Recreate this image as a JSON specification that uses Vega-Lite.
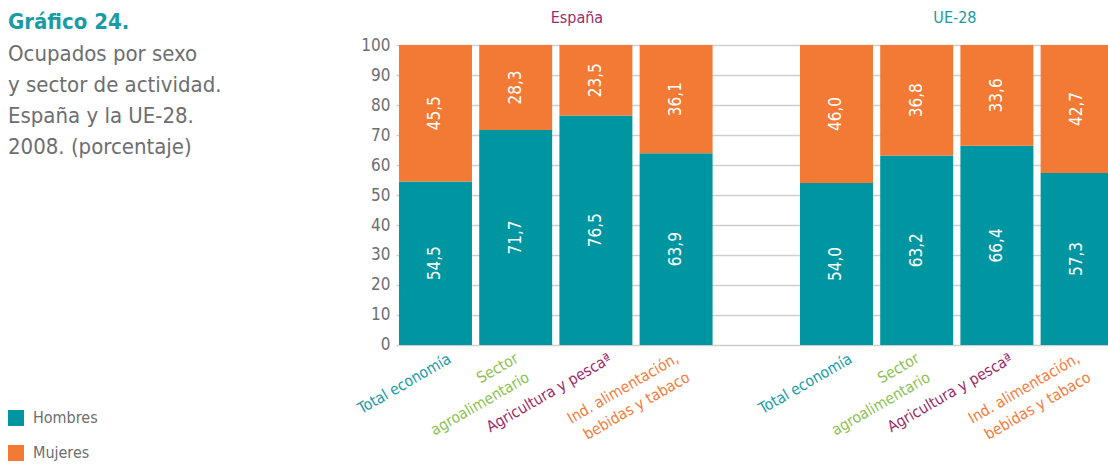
{
  "$schema": "https://vega.github.io/schema/vega-lite/v6.json",
  "width": 714.6,
  "height": 300,
  "autosize": {"type": "none"},
  "padding": {"left": 399, "top": 45, "right": 0, "bottom": 121},
  "background": "white",
  "title": {
    "text": "Gráfico 24.",
    "subtitle": ["Ocupados por sexo", "y sector de actividad.", "España y la UE-28.", "2008. (porcentaje)"],
    "anchor": "start",
    "frame": "group",
    "orient": "top",
    "offset": 0,
    "dx": -391,
    "dy": 149,
    "font": "DejaVu Sans Condensed, Liberation Sans Narrow, Roboto Condensed, sans-serif",
    "fontSize": 22,
    "fontWeight": "bold",
    "color": "#1a9ba6",
    "subtitleFont": "DejaVu Sans Condensed, Liberation Sans Narrow, Roboto Condensed, sans-serif",
    "subtitleFontSize": 22,
    "subtitleColor": "#6d6e71",
    "subtitleLineHeight": 31,
    "subtitlePadding": 10
  },
  "config": {
    "view": {"stroke": null},
    "font": "DejaVu Sans Condensed, Liberation Sans Narrow, Roboto Condensed, sans-serif",
    "axis": {"labelOverlap": false, "labelSeparation": 0, "labelBound": false},
    "axisY": {"tickCount": 11, "labelOverlap": false, "grid": true, "gridColor": "#cfcfcf", "gridWidth": 1.5, "domain": false, "ticks": true, "tickSize": 3, "tickColor": "#cfcfcf", "tickWidth": 1.5, "labelPadding": 6, "labelFontSize": 17, "labelColor": "#6d6e71", "title": null},
    "locale": {"number": {"decimal": ",", "thousands": ".", "grouping": [3], "currency": ["", " €"]}}
  },
  "data": {
    "values": [
      {"slot": "E1", "grupo": "España", "sector": "Total economía", "sexo": "Hombres", "valor": 54.5},
      {"slot": "E1", "grupo": "España", "sector": "Total economía", "sexo": "Mujeres", "valor": 45.5},
      {"slot": "E2", "grupo": "España", "sector": "Sector agroalimentario", "sexo": "Hombres", "valor": 71.7},
      {"slot": "E2", "grupo": "España", "sector": "Sector agroalimentario", "sexo": "Mujeres", "valor": 28.3},
      {"slot": "E3", "grupo": "España", "sector": "Agricultura y pesca", "sexo": "Hombres", "valor": 76.5},
      {"slot": "E3", "grupo": "España", "sector": "Agricultura y pesca", "sexo": "Mujeres", "valor": 23.5},
      {"slot": "E4", "grupo": "España", "sector": "Ind. alimentación, bebidas y tabaco", "sexo": "Hombres", "valor": 63.9},
      {"slot": "E4", "grupo": "España", "sector": "Ind. alimentación, bebidas y tabaco", "sexo": "Mujeres", "valor": 36.1},
      {"slot": "U1", "grupo": "UE-28", "sector": "Total economía", "sexo": "Hombres", "valor": 54.0},
      {"slot": "U1", "grupo": "UE-28", "sector": "Total economía", "sexo": "Mujeres", "valor": 46.0},
      {"slot": "U2", "grupo": "UE-28", "sector": "Sector agroalimentario", "sexo": "Hombres", "valor": 63.2},
      {"slot": "U2", "grupo": "UE-28", "sector": "Sector agroalimentario", "sexo": "Mujeres", "valor": 36.8},
      {"slot": "U3", "grupo": "UE-28", "sector": "Agricultura y pesca", "sexo": "Hombres", "valor": 66.4},
      {"slot": "U3", "grupo": "UE-28", "sector": "Agricultura y pesca", "sexo": "Mujeres", "valor": 33.6},
      {"slot": "U4", "grupo": "UE-28", "sector": "Ind. alimentación, bebidas y tabaco", "sexo": "Hombres", "valor": 57.3},
      {"slot": "U4", "grupo": "UE-28", "sector": "Ind. alimentación, bebidas y tabaco", "sexo": "Mujeres", "valor": 42.7}
    ]
  },
  "resolve": {"scale": {"color": "independent"}, "legend": {"color": "independent"}},
  "layer": [
    {
      "mark": {"type": "bar"},
      "encoding": {
        "x": {
          "field": "slot", "type": "nominal",
          "scale": {"domain": ["E1", "E2", "E3", "E4", "gap", "U1", "U2", "U3", "U4"], "paddingInner": 0.09, "paddingOuter": 0},
          "axis": null
        },
        "y": {
          "field": "valor", "type": "quantitative", "stack": "zero",
          "scale": {"domain": [0, 100], "nice": false},
          "axis": {"values": [0, 10, 20, 30, 40, 50, 60, 70, 80, 90, 100], "tickCount": 11, "labelOverlap": false, "labelSeparation": 0}
        },
        "color": {
          "field": "sexo", "type": "nominal",
          "scale": {"domain": ["Hombres", "Mujeres"], "range": ["#0096a1", "#f37a34"]},
          "legend": {
            "title": null, "orient": "none", "legendX": -391, "legendY": 365,
            "symbolType": "square", "symbolSize": 256, "symbolStrokeWidth": 0, "symbolOpacity": 1,
            "labelFontSize": 16, "labelColor": "#6d6e71", "rowPadding": 19, "labelOffset": 9
          }
        },
        "order": {"field": "sexo"}
      }
    },
    {
      "transform": [
        {"stack": "valor", "groupby": ["slot"], "sort": [{"field": "sexo", "order": "ascending"}], "as": ["v0", "v1"]},
        {"fold": ["v0", "v1"], "as": ["k", "pos"]},
        {"aggregate": [{"op": "mean", "field": "pos", "as": "mid"}], "groupby": ["slot", "sexo", "valor"]}
      ],
      "mark": {"type": "text", "angle": -90, "color": "white", "fontSize": 17, "align": "center", "baseline": "middle"},
      "encoding": {
        "x": {"field": "slot", "type": "nominal"},
        "y": {"field": "mid", "type": "quantitative", "axis": {"values": [0, 10, 20, 30, 40, 50, 60, 70, 80, 90, 100], "tickCount": 11, "labelOverlap": false, "labelSeparation": 0}},
        "text": {"field": "valor", "type": "quantitative", "format": ".1f"}
      }
    },
    {
      "data": {
        "values": [
          {"slot": "E1", "sector": "Total economía", "etiqueta": "Total economía"},
          {"slot": "E3", "sector": "Agricultura y pesca", "etiqueta": "Agricultura y pescaª"},
          {"slot": "U1", "sector": "Total economía", "etiqueta": "Total economía"},
          {"slot": "U3", "sector": "Agricultura y pesca", "etiqueta": "Agricultura y pescaª"}
        ]
      },
      "mark": {"type": "text", "angle": -30, "align": "right", "baseline": "top", "dx": 6, "dy": 11, "fontSize": 15.5, "lineBreak": "\n", "lineHeight": 22},
      "encoding": {
        "x": {"field": "slot", "type": "nominal"},
        "y": {"datum": 0, "type": "quantitative", "axis": {"values": [0, 10, 20, 30, 40, 50, 60, 70, 80, 90, 100], "tickCount": 11, "labelOverlap": false, "labelSeparation": 0}},
        "text": {"field": "etiqueta", "type": "nominal"},
        "color": {
          "field": "sector", "type": "nominal",
          "scale": {"domain": ["Total economía", "Agricultura y pesca"], "range": ["#1a9ba6", "#9b2c6c"]},
          "legend": null
        }
      }
    },
    {
      "data": {
        "values": [
          {"slot": "E2", "sector": "Sector agroalimentario", "etiqueta": "Sector\nagroalimentario"},
          {"slot": "E4", "sector": "Ind. alimentación, bebidas y tabaco", "etiqueta": "Ind. alimentación,\nbebidas y tabaco"},
          {"slot": "U2", "sector": "Sector agroalimentario", "etiqueta": "Sector\nagroalimentario"},
          {"slot": "U4", "sector": "Ind. alimentación, bebidas y tabaco", "etiqueta": "Ind. alimentación,\nbebidas y tabaco"}
        ]
      },
      "mark": {"type": "text", "angle": -30, "align": "right", "baseline": "top", "dx": -5, "dy": 4, "fontSize": 15.5, "lineBreak": "\n", "lineHeight": 22},
      "encoding": {
        "x": {"field": "slot", "type": "nominal"},
        "y": {"datum": 0, "type": "quantitative", "axis": {"values": [0, 10, 20, 30, 40, 50, 60, 70, 80, 90, 100], "tickCount": 11, "labelOverlap": false, "labelSeparation": 0}},
        "text": {"field": "etiqueta", "type": "nominal"},
        "color": {
          "field": "sector", "type": "nominal",
          "scale": {"domain": ["Sector agroalimentario", "Ind. alimentación, bebidas y tabaco"], "range": ["#8dc152", "#f47c3c"]},
          "legend": null
        }
      }
    },
    {
      "data": {"values": [{"slot": "E3", "grupo": "España"}]},
      "mark": {"type": "text", "align": "center", "baseline": "alphabetic", "dx": -19, "dy": -22, "fontSize": 16, "color": "#9b2c6c"},
      "encoding": {
        "x": {"field": "slot", "type": "nominal"},
        "y": {"datum": 100, "type": "quantitative", "axis": {"values": [0, 10, 20, 30, 40, 50, 60, 70, 80, 90, 100], "tickCount": 11, "labelOverlap": false, "labelSeparation": 0}},
        "text": {"field": "grupo", "type": "nominal"}
      }
    },
    {
      "data": {"values": [{"slot": "U3", "grupo": "UE-28"}]},
      "mark": {"type": "text", "align": "center", "baseline": "alphabetic", "dx": -42, "dy": -22, "fontSize": 16, "color": "#1a9ba6"},
      "encoding": {
        "x": {"field": "slot", "type": "nominal"},
        "y": {"datum": 100, "type": "quantitative", "axis": {"values": [0, 10, 20, 30, 40, 50, 60, 70, 80, 90, 100], "tickCount": 11, "labelOverlap": false, "labelSeparation": 0}},
        "text": {"field": "grupo", "type": "nominal"}
      }
    }
  ]
}
